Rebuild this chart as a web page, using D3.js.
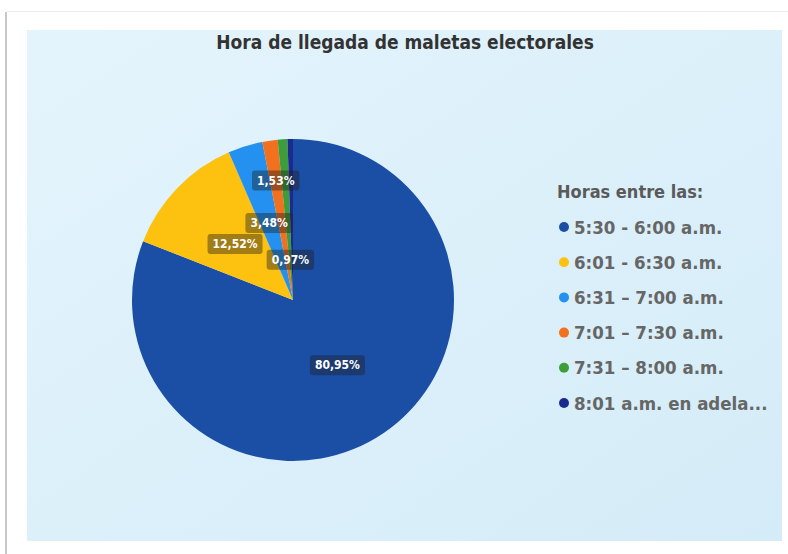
<!DOCTYPE html>
<html>
<head>
<meta charset="utf-8">
<script src="https://cdn.jsdelivr.net/npm/d3@7"></script>
<style>
  body { margin: 0; background: #ffffff; }
  svg { display: block; }
</style>
</head>
<body>
<svg id="chart" width="788" height="554"></svg>
<script>
/** Chart data **/
var categories = ["5:30 - 6:00 a.m.", "6:01 - 6:30 a.m.", "6:31 \u2013 7:00 a.m.", "7:01 \u2013 7:30 a.m.", "7:31 \u2013 8:00 a.m.", "8:01 a.m. en adela..."];
var values = [80.95, 12.52, 3.48, 1.53, 0.97, 0.55];
var valueLabels = ["80,95%", "12,52%", "3,48%", "1,53%", "0,97%", ""];
var colors = ["#1b4fa6", "#fdc10f", "#2491f0", "#f2711f", "#3d9d3a", "#1c2a8f"];
var chartTitle = "Hora de llegada de maletas electorales";
var legendTitle = "Horas entre las:";

/** label distance from centre (share of radius) **/
var labelRadius = [0.49, 0.5, 0.5, 0.75, 0.25, 0.5];

var svg = d3.select("#chart");
var width = 788, height = 554;

/** Card frame **/
svg.append("line")
    .attr("x1", 6).attr("y1", 12).attr("x2", 6).attr("y2", 554)
    .style("stroke", "#c8c8c8").style("stroke-width", 2);
svg.append("line")
    .attr("x1", 7).attr("y1", 11.5).attr("x2", 788).attr("y2", 11.5)
    .style("stroke", "#ececec").style("stroke-width", 1);

/** Panel background **/
var defs = svg.append("defs");
var grad = defs.append("linearGradient")
    .attr("id", "panelGrad")
    .attr("x1", "0").attr("y1", "0").attr("x2", "1").attr("y2", "1");
grad.append("stop").attr("offset", "0%").attr("stop-color", "#e4f4fc");
grad.append("stop").attr("offset", "100%").attr("stop-color", "#d4ecf8");

svg.append("rect")
    .attr("x", 27).attr("y", 30)
    .attr("width", 755).attr("height", 511)
    .style("fill", "url(#panelGrad)");

/** Title **/
svg.append("text")
    .text(chartTitle)
    .attr("x", 405).attr("y", 49)
    .style("font-family", "'DejaVu Sans Condensed', 'DejaVu Sans', sans-serif")
    .style("font-stretch", "condensed")
    .style("font-weight", "bold")
    .style("font-size", "19px")
    .style("fill", "#333333")
    .style("text-anchor", "middle");

/** Pie **/
var cx = 293, cy = 300, radius = 161;
var pie = d3.pie().sort(null).value(function(d){ return d; });
var arcs = pie(values);
var arc = d3.arc().innerRadius(0).outerRadius(radius);

var g = svg.append("g").attr("transform", "translate(" + cx + "," + cy + ")");
g.selectAll("path.slice")
    .data(arcs)
    .enter().append("path")
    .attr("class", "slice")
    .attr("d", arc)
    .style("fill", function(d, i){ return colors[i]; });

/** Data labels **/
var labels = g.selectAll("g.lbl")
    .data(arcs)
    .enter().append("g")
    .attr("class", "lbl")
    .attr("transform", function(d, i){
        var r = radius * labelRadius[i];
        var c = d3.arc().innerRadius(r).outerRadius(r).centroid(d);
        return "translate(" + c[0] + "," + c[1] + ")";
    });

labels.each(function(d, i){
    if(!valueLabels[i]){ return; }
    var sel = d3.select(this);
    var box = sel.append("rect");
    var t = sel.append("text")
        .text(valueLabels[i])
        .attr("dy", "0.35em")
        .style("font-family", "'DejaVu Sans Condensed', sans-serif")
        .style("font-weight", "bold")
        .style("font-size", "12px")
        .style("fill", "#ffffff")
        .style("text-anchor", "middle");
    var w = t.node().getComputedTextLength() + 10;
    box.attr("x", -w / 2).attr("y", -10)
        .attr("width", w).attr("height", 20)
        .attr("rx", 3)
        .style("fill", "rgba(30,30,30,0.42)");
});

/** Legend **/
var legend = svg.append("g").attr("transform", "translate(557,0)");
legend.append("text")
    .text(legendTitle)
    .attr("x", 0).attr("y", 198)
    .style("font-family", "'DejaVu Sans Condensed', sans-serif")
    .style("font-weight", "bold")
    .style("font-size", "18px")
    .style("fill", "#5a5a5a");

var yLegend = d3.scalePoint()
    .domain(categories)
    .range([227, 403]);

var items = legend.selectAll("g.item")
    .data(categories)
    .enter().append("g")
    .attr("class", "item")
    .attr("transform", function(d){ return "translate(0," + yLegend(d) + ")"; });

items.append("circle")
    .attr("cx", 7).attr("cy", 0).attr("r", 5)
    .style("fill", function(d, i){ return colors[i]; });

items.append("text")
    .text(function(d){ return d; })
    .attr("x", 17).attr("dy", "0.36em")
    .style("font-family", "'DejaVu Sans Condensed', sans-serif")
    .style("font-weight", "bold")
    .style("font-size", "18.5px")
    .style("fill", "#666666");
</script>
</body>
</html>
